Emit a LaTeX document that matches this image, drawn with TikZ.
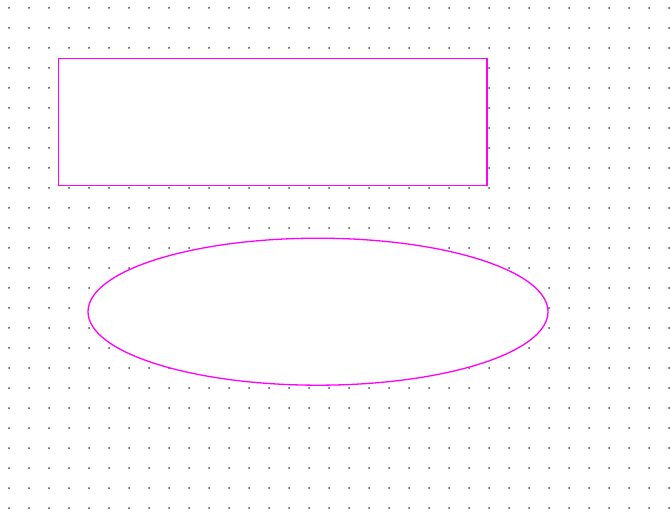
\documentclass[tikz,border=0pt]{standalone}
\usepackage{xcolor}
\usepackage{tikz}
\usetikzlibrary{shapes.geometric}
\definecolor{shapemagenta}{RGB}{255, 0, 255}
\definecolor{gridgray}{RGB}{70, 70, 70}

\begin{document}
\begin{tikzpicture}[
    x=1pt, y=-1pt,
    gridpoint/.style={circle, fill=gridgray, inner sep=0pt, minimum size=2pt},
    framebox/.style={rectangle, draw=shapemagenta, line width=1.3pt,
                     fill=white, inner sep=0pt,
                     minimum width=428.5pt, minimum height=127pt},
    oval/.style={ellipse, draw=shapemagenta, line width=1.3pt,
                 fill=white, inner sep=0pt,
                 minimum width=460pt, minimum height=147pt}
]
\useasboundingbox (0,0) rectangle (670,513);

% Dot grid
\foreach \i in {0,...,33} {
  \foreach \j in {0,...,25} {
    \node[gridpoint] at ({9+20*\i},{8+20*\j}) {};
  }
}

% Shapes
\node[framebox] (panel) at (272.75,122) {};
\node[oval] (blob) at (318,311.7) {};

\end{tikzpicture}
\end{document}
